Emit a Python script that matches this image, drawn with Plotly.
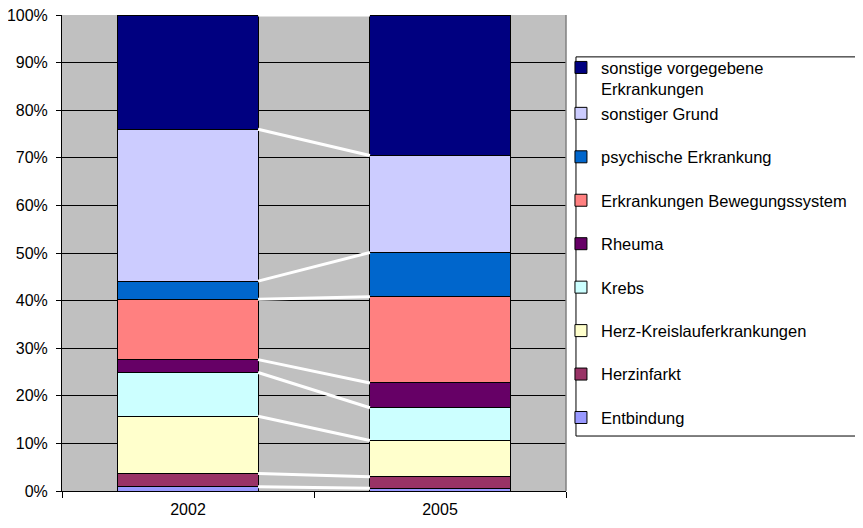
import plotly.graph_objects as go
from itertools import accumulate

years = ["2002", "2005"]
series = [
    "Entbindung",
    "Herzinfarkt",
    "Herz-Kreislauferkrankungen",
    "Krebs",
    "Rheuma",
    "Erkrankungen Bewegungssystem",
    "psychische Erkrankung",
    "sonstiger Grund",
    "sonstige vorgegebene<br>Erkrankungen",
]
values_2002 = [0.9, 2.8, 12.0, 9.2, 2.7, 12.7, 3.8, 31.9, 24.0]
values_2005 = [0.6, 2.4, 7.6, 6.9, 5.2, 18.1, 9.3, 20.4, 29.5]
colors = ["#9999FF", "#993366", "#FFFFCC", "#CCFFFF", "#660066",
          "#FF8080", "#0066CC", "#CCCCFF", "#000080"]
groups = ["g0", "g1", "g2", "g3", "g4", "g5", "g6", "top", "top"]

BAR_WIDTH = 0.556
FONT = "Liberation Sans, Arial, sans-serif"

fig = go.Figure()
for i, (name, a, b, c, g) in enumerate(zip(series, values_2002, values_2005, colors, groups)):
    fig.add_trace(go.Bar(
        x=years, y=[a, b], name=name, legendgroup=g,
        legendrank=100 - i,
        marker=dict(color=c, line=dict(color="black", width=1)),
        width=BAR_WIDTH,
    ))

cum_2002 = list(accumulate(values_2002))
cum_2005 = list(accumulate(values_2005))
for y0, y1 in zip(cum_2002, cum_2005):
    fig.add_shape(type="line", xref="x", yref="y",
                  x0=0 + BAR_WIDTH / 2, x1=1 - BAR_WIDTH / 2,
                  y0=y0, y1=y1, line=dict(color="white", width=3),
                  layer="above")

# right border of plot area
fig.add_shape(type="line", xref="paper", yref="paper", x0=1, x1=1, y0=0, y1=1,
              line=dict(color="#808080", width=1.5))
# legend frame
fig.add_shape(type="rect", xref="paper", yref="paper",
              x0=1.0198, x1=1.579, y0=0.1155, y1=0.912,
              line=dict(color="black", width=1), fillcolor="rgba(0,0,0,0)")

fig.update_layout(
    width=855, height=520,
    margin=dict(l=54, r=297, t=7, b=37),
    barmode="stack",
    bargap=0.444,
    plot_bgcolor="#C0C0C0",
    paper_bgcolor="white",
    font=dict(family=FONT, size=16, color="black"),
    showlegend=True,
    legend=dict(
        x=0.99, y=0.926, xanchor="left", yanchor="top",
        traceorder="grouped", tracegroupgap=19,
        bgcolor="rgba(0,0,0,0)", borderwidth=0,
        font=dict(family=FONT, size=16.5, color="black"),
        valign="top",
    ),
    xaxis=dict(
        type="category", range=[-0.5, 1.5], tickson="boundaries",
        ticks="outside", ticklen=6, tickcolor="black",
        showline=True, linecolor="black", linewidth=1,
        showgrid=False, tickfont=dict(size=16), automargin=False,
        ticklabelstandoff=4, ticklabeloverflow="allow",
    ),
    yaxis=dict(
        range=[0, 100], dtick=10, ticksuffix="%",
        ticks="outside", ticklen=5, tickcolor="black",
        showline=True, linecolor="black", linewidth=1,
        showgrid=True, gridcolor="black", gridwidth=1,
        zeroline=False, tickfont=dict(size=16), automargin=False,
        ticklabelstandoff=5, ticklabeloverflow="allow",
    ),
)

fig.write_html("out.html")
